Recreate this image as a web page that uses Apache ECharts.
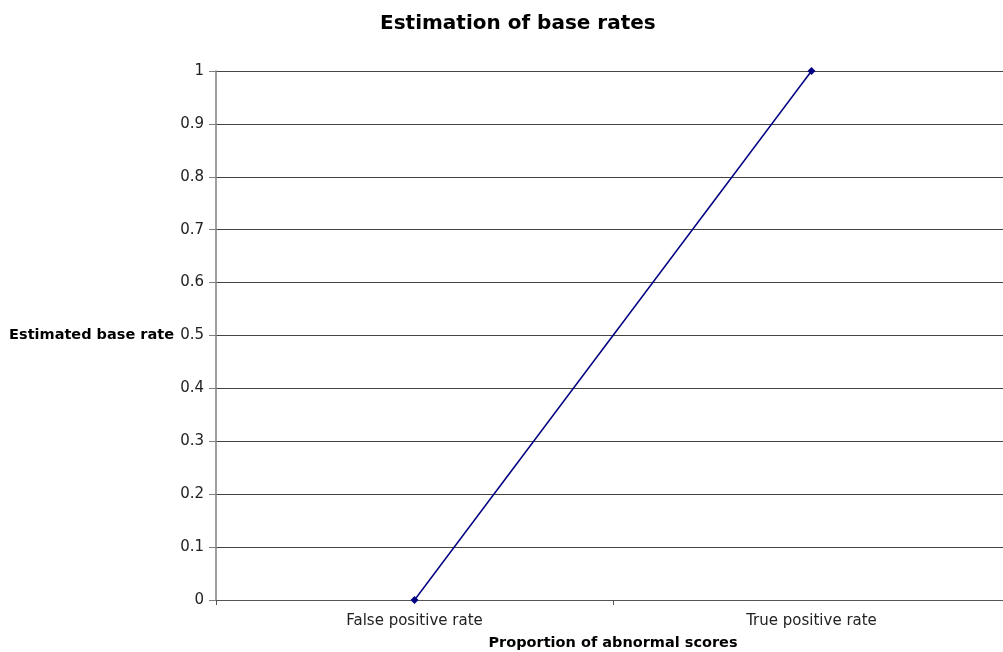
<!DOCTYPE html>
<html><head><meta charset="utf-8">
<script src="https://cdn.jsdelivr.net/npm/echarts@6/dist/echarts.min.js"></script>
<style>html,body{margin:0;padding:0;background:#fff}#c{width:1003px;height:652px}</style>
</head><body><div id="c"></div>
<script>
const categories = ["False positive rate", "True positive rate"];
const values = [0, 1];
const titleText = "Estimation of base rates";
const xName = "Proportion of abnormal scores";
const yName = "Estimated base rate";
const font = "'DejaVu Sans', Verdana, sans-serif";
const chart = echarts.init(document.getElementById('c'), null, {renderer: 'canvas'});
chart.setOption({
  animation: false,
  title: {text: titleText, left: 375, top: 9, textStyle: {fontFamily: font, fontSize: 20, fontWeight: 'bold', color: '#000'}},
  grid: {left: 216, right: -7, top: 71, bottom: 52, outerBoundsMode: 'none', containLabel: false},
  xAxis: {
    type: 'category', data: categories, boundaryGap: true,
    name: xName, nameLocation: 'middle', nameGap: 36,
    nameTextStyle: {fontFamily: font, fontSize: 14.5, fontWeight: 'bold', color: '#000'},
    axisLine: {lineStyle: {color: '#555', width: 1}},
    axisTick: {show: true, length: 5, lineStyle: {color: '#555'}},
    axisLabel: {fontFamily: font, fontSize: 15, color: '#222', margin: 14},
    splitLine: {show: false}
  },
  yAxis: {
    type: 'value', min: 0, max: 1, interval: 0.1,
    name: yName, nameLocation: 'middle', nameRotate: 0, nameGap: 42,
    nameTextStyle: {fontFamily: font, fontSize: 14.5, fontWeight: 'bold', color: '#000', align: 'right', verticalAlign: 'middle'},
    axisLine: {show: true, lineStyle: {color: '#808080', width: 1.5}},
    axisTick: {show: true, length: 7, lineStyle: {color: '#808080'}},
    axisLabel: {fontFamily: font, fontSize: 15, color: '#222', margin: 12},
    splitLine: {show: true, lineStyle: {color: '#444', width: 1}}
  },
  series: [{
    type: 'line', data: values,
    lineStyle: {color: '#000080', width: 1.5},
    itemStyle: {color: '#000080'},
    symbol: 'diamond', symbolSize: 8, showSymbol: true
  }]
});
</script></body></html>
